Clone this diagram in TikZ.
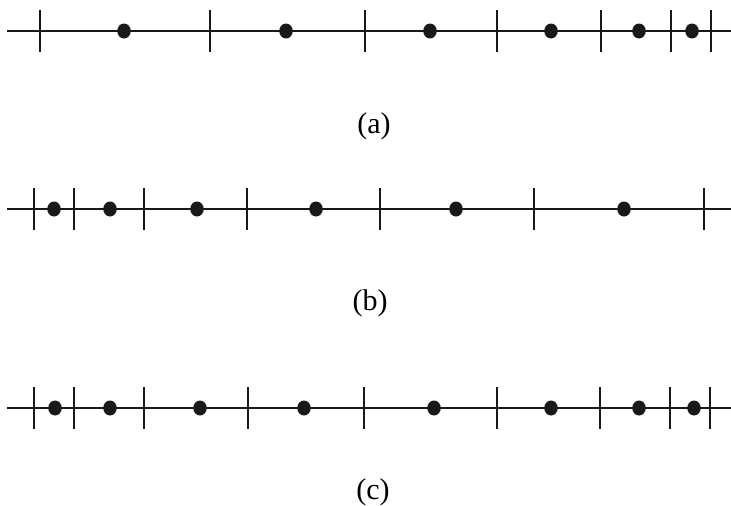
\documentclass[tikz,border=0pt]{standalone}
\usepackage{fontspec}
\setmainfont{Liberation Serif}
\usetikzlibrary{shapes.geometric}
\begin{document}
\begin{tikzpicture}[x=1pt,y=-1pt,
  axisline/.style={line width=2.8pt,draw=black!90},
  tickline/.style={line width=1.2pt,draw=black!90},
  dotmark/.style={ellipse,fill=black!90,inner sep=0pt,minimum width=13.5pt,minimum height=15pt},
  caplabel/.style={font=\fontsize{30}{34}\selectfont,inner sep=0pt}]
\useasboundingbox (0,0) rectangle (731,506);
% (a)
\draw[axisline] (7,31) -- (731,31);
\foreach \x in {40,210,365,497,601,671,711} \draw[tickline] (\x,10) -- (\x,52);
\foreach \x in {124,286,430,551,639,692} \node[dotmark] at (\x,31) {};
\node[caplabel] (la) at (374,126) {(a)};
% (b)
\draw[axisline] (7,209) -- (731,209);
\foreach \x in {34,74,144,247,380,534,704} \draw[tickline] (\x,188) -- (\x,230);
\foreach \x in {54,110,197,316,456,624} \node[dotmark] at (\x,209) {};
\node[caplabel] (lb) at (370,303) {(b)};
% (c)
\draw[axisline] (7,408) -- (731,408);
\foreach \x in {34,74,144,248,364,497,600,670,710} \draw[tickline] (\x,387) -- (\x,429);
\foreach \x in {55,110,200,304,434,551,639,694} \node[dotmark] at (\x,408) {};
\node[caplabel] (lc) at (373,492) {(c)};
\end{tikzpicture}
\end{document}
